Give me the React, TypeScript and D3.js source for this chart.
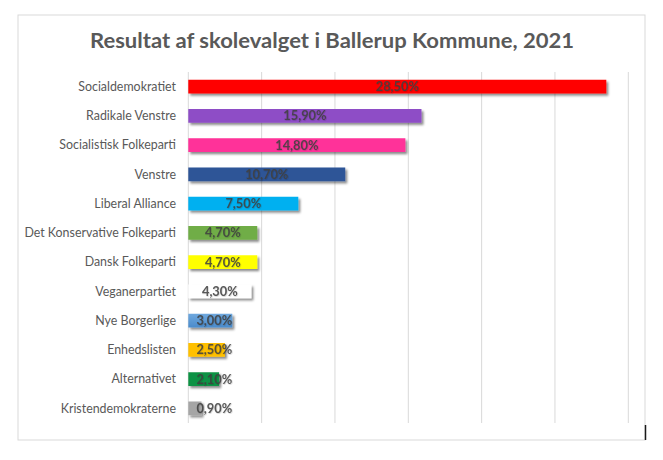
import React from "react";
import * as d3 from "d3";

const TITLE = "Resultat af skolevalget i Ballerup Kommune, 2021";
const parties = [
  "Socialdemokratiet",
  "Radikale Venstre",
  "Socialistisk Folkeparti",
  "Venstre",
  "Liberal Alliance",
  "Det Konservative Folkeparti",
  "Dansk Folkeparti",
  "Veganerpartiet",
  "Nye Borgerlige",
  "Enhedslisten",
  "Alternativet",
  "Kristendemokraterne",
];
const shares = [28.5, 15.9, 14.8, 10.7, 7.5, 4.7, 4.7, 4.3, 3.0, 2.5, 2.1, 0.9];
const barColors = [
  "#FF0000",
  "#8E4EC6",
  "#FF3399",
  "#2F5597",
  "#00B0F0",
  "#70AD47",
  "#FFFF00",
  "#FFFFFF",
  "#5B9BD5",
  "#FFC000",
  "#0E9245",
  "#A5A5A5",
];
const xTicks = [0, 5, 10, 15, 20, 25, 30];

const W = 663;
const H = 460;
const plot = { left: 188.3, right: 628.3, top: 72, bottom: 423 };

export default function App() {
  const x = d3.scaleLinear().domain([0, 30]).range([plot.left, plot.right]);
  const y = d3
    .scaleBand<string>()
    .domain(parties)
    .range([plot.top, plot.bottom])
    .paddingInner(0.53)
    .paddingOuter(0.265);
  const fmt = (v: number) => v.toFixed(2).replace(".", ",") + "%";
  const font = "Lato, 'Open Sans', sans-serif";

  return (
    <svg
      width={W}
      height={H}
      style={{ position: "absolute", left: 0, top: 0, background: "#fff" }}
    >
      <defs>
        <filter id="shadow" x="-10%" y="-40%" width="130%" height="200%">
          <feDropShadow dx="2" dy="2.2" stdDeviation="1.3" floodColor="#000" floodOpacity="0.45" />
        </filter>
        <filter id="tshadow" x="-10%" y="-40%" width="130%" height="200%">
          <feDropShadow dx="0.6" dy="0.6" stdDeviation="0.4" floodColor="#000" floodOpacity="0.25" />
        </filter>
        <linearGradient id="nbGrad" x1="0" y1="0" x2="0" y2="1">
          <stop offset="0" stopColor="#6FA8DE" />
          <stop offset="1" stopColor="#4A8BCB" />
        </linearGradient>
      </defs>
      <rect x={18} y={15} width={627} height={425} fill="#fff" stroke="#D9D9D9" strokeWidth={1} />
      <line x1={645.5} x2={645.5} y1={425} y2={440} stroke="#1a1a1a" strokeWidth={1.5} />
      <text
        x={332}
        y={48}
        textAnchor="middle"
        fontFamily={font}
        fontWeight="bold"
        fontSize={21.5}
        textLength={484}
        lengthAdjust="spacingAndGlyphs"
        fill="#595959"
      >
        {TITLE}
      </text>
      {xTicks.map((t) => (
        <line
          key={t}
          x1={x(t)}
          x2={x(t)}
          y1={plot.top}
          y2={plot.bottom}
          stroke="#D9D9D9"
          strokeWidth={1}
        />
      ))}
      {parties.map((p, i) => {
        const y0 = y(p)!;
        const bw = y.bandwidth();
        const cy = y0 + bw / 2;
        const w = x(shares[i]) - x(0);
        const lx = Math.max(x(0) + w / 2, x(0) + 26);
        const fill = i === 8 ? "url(#nbGrad)" : barColors[i];
        return (
          <g key={p}>
            <text
              x={176}
              y={cy}
              dy="0.35em"
              textAnchor="end"
              fontFamily={font}
              fontSize={12.4}
              fill="#595959"
            >
              {p}
            </text>
            <rect x={x(0)} y={y0} width={w} height={bw} fill={fill} filter="url(#shadow)" />
            <text
              x={lx}
              y={cy}
              dy="0.36em"
              textAnchor="middle"
              fontFamily={font}
              fontWeight="bold"
              fontSize={12.8}
              fill="#404040"
              fillOpacity={0.85}
              filter="url(#tshadow)"
            >
              {fmt(shares[i])}
            </text>
          </g>
        );
      })}
    </svg>
  );
}
